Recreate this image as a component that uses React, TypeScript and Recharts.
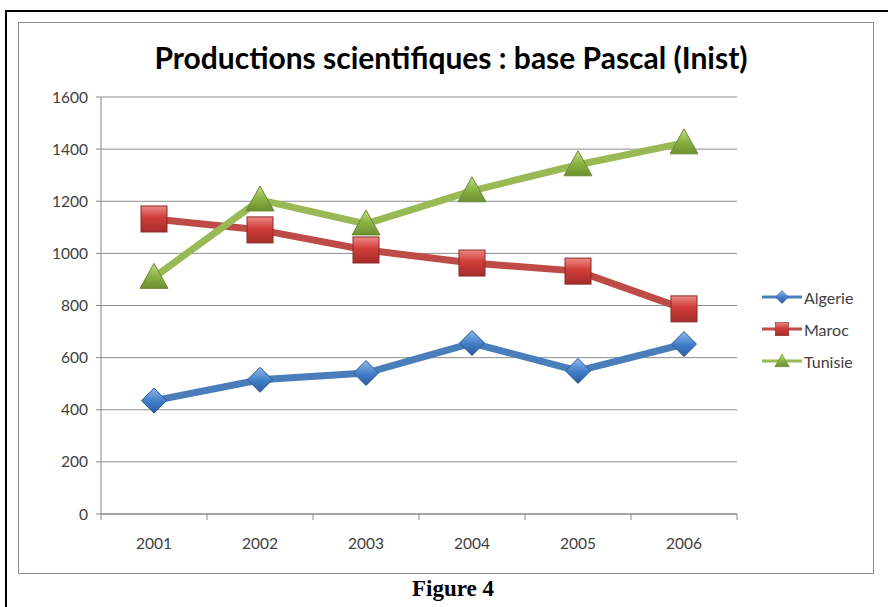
import { CartesianGrid, Line, LineChart, XAxis, YAxis } from "recharts";

const years = ["2001", "2002", "2003", "2004", "2005", "2006"];
const algerie = [435, 515, 541, 656, 549, 652];
const maroc = [1132, 1090, 1013, 963, 932, 787];
const tunisie = [908, 1205, 1113, 1240, 1340, 1424];
const yTicks = [0, 200, 400, 600, 800, 1000, 1200, 1400, 1600];

const seriesNames = ["Algerie", "Maroc", "Tunisie"];
const seriesColors = ["#4a7ebb", "#be4b48", "#98b954"];

const data = years.map((year, i) => ({
  year,
  Algerie: algerie[i],
  Maroc: maroc[i],
  Tunisie: tunisie[i],
}));

const labelFont = "Lato, 'Open Sans', sans-serif";

const DiamondDot = (props: any) => {
  const { cx, cy } = props;
  if (cx == null || cy == null) return null;
  const r = 12.5;
  return (
    <polygon
      points={`${cx},${cy - r} ${cx + r},${cy} ${cx},${cy + r} ${cx - r},${cy}`}
      fill="url(#gradBlue)"
      stroke="#2c5a8f"
      strokeWidth={1}
    />
  );
};

const SquareDot = (props: any) => {
  const { cx, cy } = props;
  if (cx == null || cy == null) return null;
  return (
    <rect x={cx - 13} y={cy - 13} width={26} height={26} fill="url(#gradRed)" stroke="#8a2b28" strokeWidth={1} />
  );
};

const TriangleDot = (props: any) => {
  const { cx, cy } = props;
  if (cx == null || cy == null) return null;
  return (
    <polygon
      points={`${cx},${cy - 14} ${cx + 14},${cy + 11} ${cx - 14},${cy + 11}`}
      fill="url(#gradGreen)"
      stroke="#6d8a37"
      strokeWidth={1}
    />
  );
};

const dotShapes = [DiamondDot, SquareDot, TriangleDot];

const YearTick = (props: any) => {
  const { x, y, payload, index, width, visibleTicksCount } = props;
  const bw = width && visibleTicksCount ? width / visibleTicksCount : 106;
  return (
    <g>
      <line x1={x - bw / 2} x2={x - bw / 2} y1={y} y2={y + 6} stroke="#868686" />
      {index === visibleTicksCount - 1 && (
        <line x1={x + bw / 2} x2={x + bw / 2} y1={y} y2={y + 6} stroke="#868686" />
      )}
      <text x={x} y={y + 30} dy="0.35em" textAnchor="middle" fill="#404040" fontSize={15.5} fontFamily={labelFont}>
        {payload.value}
      </text>
    </g>
  );
};

function LegendIcon({ index }: { index: number }) {
  const color = seriesColors[index];
  const Shape = dotShapes[index];
  return (
    <svg width={40} height={20} style={{ display: "block" }}>
      <line x1={0} x2={40} y1={10} y2={10} stroke={color} strokeWidth={3} />
      <g transform="translate(20,10) scale(0.52) translate(-20,-10)">
        <Shape cx={20} cy={10} />
      </g>
    </svg>
  );
}

export default function App() {
  return (
    <div style={{ position: "absolute", left: 0, top: 0, width: 888, height: 607, overflow: "hidden", background: "#fff" }}>
      <div
        style={{
          position: "absolute",
          left: 5,
          top: 10,
          width: 950,
          height: 700,
          borderLeft: "2px solid #000",
          borderTop: "2px solid #000",
        }}
      />
      <div
        style={{
          position: "absolute",
          left: 18,
          top: 22,
          width: 856,
          height: 552,
          boxSizing: "border-box",
          border: "1px solid #8a8a8a",
        }}
      />
      <div
        style={{
          position: "absolute",
          left: 0,
          top: 38,
          width: 902,
          textAlign: "center",
          fontFamily: labelFont,
          fontWeight: 700,
          fontSize: 30,
          lineHeight: "38px",
          color: "#000",
        }}
      >
        Productions scientifiques : base Pascal (Inist)
      </div>
      <div style={{ position: "absolute", left: 18, top: 22 }}>
        <LineChart width={856} height={552} data={data} margin={{ top: 75, right: 137, left: 0, bottom: 0 }}>
          <defs>
            <linearGradient id="gradBlue" x1="0" y1="0" x2="0" y2="1">
              <stop offset="0%" stopColor="#8fb8ea" />
              <stop offset="55%" stopColor="#3f7cc7" />
              <stop offset="100%" stopColor="#2b5e9c" />
            </linearGradient>
            <linearGradient id="gradRed" x1="0" y1="0" x2="0" y2="1">
              <stop offset="0%" stopColor="#ec8a86" />
              <stop offset="45%" stopColor="#d03c38" />
              <stop offset="100%" stopColor="#a52c29" />
            </linearGradient>
            <linearGradient id="gradGreen" x1="0" y1="0" x2="0" y2="1">
              <stop offset="0%" stopColor="#c3de8a" />
              <stop offset="50%" stopColor="#8cb345" />
              <stop offset="100%" stopColor="#6b8f2e" />
            </linearGradient>
          </defs>
          <CartesianGrid vertical={false} stroke="#8d8d8d" strokeWidth={1} />
          <XAxis
            dataKey="year"
            scale="band"
            height={60}
            axisLine={{ stroke: "#868686" }}
            tickLine={false}
            tickSize={0}
            tickMargin={0}
            tick={<YearTick />}
            interval={0}
          />
          <YAxis
            width={83}
            domain={[0, 1600]}
            ticks={yTicks}
            axisLine={{ stroke: "#868686" }}
            tickLine={{ stroke: "#868686" }}
            tickSize={5}
            tickMargin={8}
            tick={{ fill: "#404040", fontSize: 15.5, fontFamily: labelFont }}
          />
          {seriesNames.map((name, i) => {
            const Shape = dotShapes[i];
            return (
              <Line
                key={name}
                type="linear"
                dataKey={name}
                stroke={seriesColors[i]}
                strokeWidth={7}
                dot={(p: any) => <Shape key={`${name}-${p.index}`} cx={p.cx} cy={p.cy} />}
                activeDot={false}
                isAnimationActive={false}
              />
            );
          })}
        </LineChart>
      </div>
      <div style={{ position: "absolute", left: 762, top: 281 }}>
        {seriesNames.map((name, i) => (
          <div key={name} style={{ display: "flex", alignItems: "center", height: 32 }}>
            <LegendIcon index={i} />
            <span style={{ marginLeft: 2, fontFamily: labelFont, fontSize: 16, color: "#404040" }}>{name}</span>
          </div>
        ))}
      </div>
      <div
        style={{
          position: "absolute",
          left: 0,
          top: 576,
          width: 906,
          textAlign: "center",
          fontFamily: "'Liberation Serif', serif",
          fontWeight: 700,
          fontSize: 23,
          color: "#000",
        }}
      >
        Figure 4
      </div>
    </div>
  );
}
